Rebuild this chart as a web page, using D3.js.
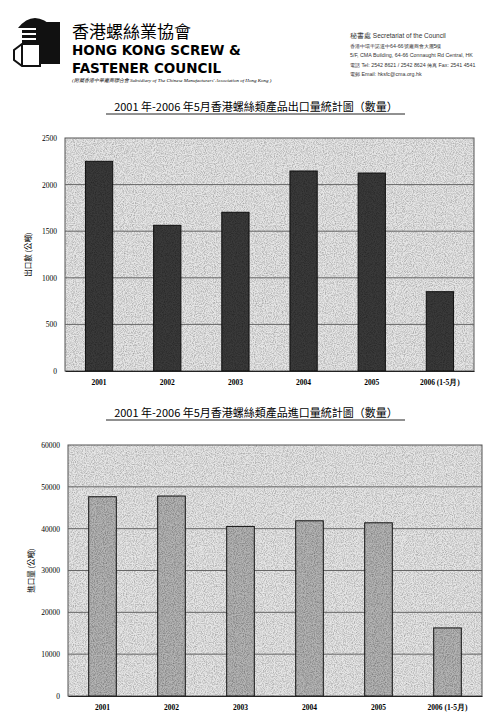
<!DOCTYPE html>
<html><head><meta charset="utf-8">
<script src="https://cdn.jsdelivr.net/npm/d3@7"></script>
<style>body{margin:0;background:#fff}svg{font-family:"Liberation Serif",serif}</style>
</head><body><div id="chart"></div>
<script>
const years = ["2001", "2002", "2003", "2004", "2005", "2006 (1-5月)"]
const exportValues = [2250, 1563, 1703, 2146, 2124, 851]
const importValues = [47630, 47800, 40540, 41880, 41400, 16270]
const exportTicks = [0, 500, 1000, 1500, 2000, 2500]
const importTicks = [0, 10000, 20000, 30000, 40000, 50000, 60000]

var svg = d3.select("#chart").append("svg").attr("width", 500).attr("height", 722)

var defs = svg.append("defs")
var f = defs.append("filter").attr("id", "noise")
f.append("feTurbulence").attr("type", "fractalNoise").attr("baseFrequency", 0.9).attr("numOctaves", 2).attr("result", "n")
f.append("feColorMatrix").attr("in", "n").attr("type", "matrix")
  .attr("values", "0 0 0 0 0  0 0 0 0 0  0 0 0 0 0  0 0 0 -1.6 1.0").attr("result", "m")
f.append("feComposite").attr("in", "m").attr("in2", "SourceGraphic").attr("operator", "in")

// header logo: screw and nut
var logo = svg.append("g")
logo.append("rect").attr("x", 36).attr("y", 22).attr("width", 24).attr("height", 42).attr("fill", "#111")
logo.append("path").attr("d", "M18 28 Q34 8 54 28 Z").attr("fill", "#111")
for (let i = 0; i < 5; i++) logo.append("rect").attr("x", 22).attr("y", 30 + i * 5).attr("width", 18).attr("height", 3).attr("fill", "#111")
logo.append("path").attr("d", "M14 50 L22 44 L40 44 L40 66 L22 66 L14 60 Z").attr("fill", "#fff").attr("stroke", "#111").attr("stroke-width", 2)
logo.append("line").attr("x1", 22).attr("x2", 22).attr("y1", 44).attr("y2", 66).attr("stroke", "#111").attr("stroke-width", 2)

svg.append("text").attr("x", 72).attr("y", 38).attr("font-family", "Noto Sans CJK TC").attr("font-size", 17).text("香港螺絲業協會")
svg.append("text").attr("x", 72).attr("y", 55).attr("font-family", "DejaVu Sans").attr("font-weight", "bold").attr("font-size", 13.5).text("HONG KONG SCREW &")
svg.append("text").attr("x", 72).attr("y", 73).attr("font-family", "DejaVu Sans").attr("font-weight", "bold").attr("font-size", 13.5).text("FASTENER COUNCIL")
svg.append("text").attr("x", 72).attr("y", 82).attr("font-size", 5).attr("font-style", "italic")
  .text("(附屬香港中華廠商聯合會 Subsidiary of The Chinese Manufacturers' Association of Hong Kong )")

var rt = ["秘書處 Secretariat of the Council", "香港中環干諾道中64-66號廠商會大廈5樓", "5/F, CMA Building, 64-66 Connaught Rd Central, HK",
  "電話 Tel: 2542 8621 / 2542 8624   傳真 Fax: 2541 4541", "電郵 Email: hksfc@cma.org.hk"]
rt.forEach((t, i) => svg.append("text").attr("x", 350).attr("y", 38 + i * 9.5)
  .attr("font-family", "Liberation Sans").attr("font-size", i === 0 ? 6.5 : 5.3).attr("fill", "#333").text(t))

function drawChart(titleY, title, values, ticks, ymax, x0, x1, y0, y1, fill, ylabel) {
  svg.append("text").attr("x", 256).attr("y", titleY).attr("text-anchor", "middle")
    .attr("font-family", "Noto Sans CJK TC").attr("font-size", 11).text(title)
  svg.append("line").attr("x1", 106).attr("x2", 405).attr("y1", titleY + 3).attr("y2", titleY + 3).attr("stroke", "#222")

  var x = d3.scaleBand().domain(years).range([x0, x1]).paddingInner(0.6).paddingOuter(0.3)
  var y = d3.scaleLinear().domain([0, ymax]).range([y1, y0])

  svg.append("rect").attr("x", x0).attr("y", y0).attr("width", x1 - x0).attr("height", y1 - y0).attr("fill", "#e6e6e6")
  svg.append("rect").attr("x", x0).attr("y", y0).attr("width", x1 - x0).attr("height", y1 - y0).attr("fill", "#888").attr("filter", "url(#noise)").attr("opacity", 0.35)
  svg.append("rect").attr("x", x0).attr("y", y0).attr("width", x1 - x0).attr("height", y1 - y0).attr("fill", "none").attr("stroke", "#555")

  svg.append("g").selectAll("line").data(ticks.slice(1, -1)).enter().append("line")
    .attr("x1", x0).attr("x2", x1).attr("y1", d => y(d)).attr("y2", d => y(d)).attr("stroke", "#666")

  svg.append("g").selectAll("rect").data(values).enter().append("rect")
    .attr("x", (d, i) => x(years[i])).attr("y", d => y(d)).attr("width", x.bandwidth()).attr("height", d => y1 - y(d))
    .attr("fill", fill).attr("stroke", "#111").attr("stroke-width", 1)
  svg.append("g").selectAll("rect").data(values).enter().append("rect")
    .attr("x", (d, i) => x(years[i])).attr("y", d => y(d)).attr("width", x.bandwidth()).attr("height", d => y1 - y(d))
    .attr("fill", "#000").attr("filter", "url(#noise)").attr("opacity", 0.4)

  var ya = svg.append("g").attr("transform", `translate(${x0},0)`)
    .call(d3.axisLeft(y).tickValues(ticks).tickFormat(d3.format("d")).tickSize(0).tickPadding(8))
  ya.select(".domain").remove()
  ya.selectAll("text").attr("font-family", "Liberation Serif").attr("font-size", 7.5)
  var xa = svg.append("g").attr("transform", `translate(0,${y1})`).call(d3.axisBottom(x).tickSize(0).tickPadding(9))
  xa.select(".domain").attr("stroke", "#222")
  xa.selectAll("text").attr("font-family", "Liberation Serif").attr("font-size", 7.5).attr("font-weight", "bold")

  svg.append("text").attr("transform", `translate(${x0 - 34},${(y0 + y1) / 2}) rotate(-90)`).attr("text-anchor", "middle")
    .attr("font-family", "Noto Sans CJK TC").attr("font-size", 7.5).text(ylabel)
}

drawChart(111, "2001 年-2006 年5月香港螺絲類產品出口量統計圖（數量）", exportValues, exportTicks, 2500, 65, 474, 138, 371, "#3a3a3a", "出口數 (公噸)")
drawChart(417, "2001 年-2006 年5月香港螺絲類產品進口量統計圖（數量）", importValues, importTicks, 60000, 68, 482, 445, 696, "#b4b4b4", "進口量 (公噸)")
</script></body></html>
